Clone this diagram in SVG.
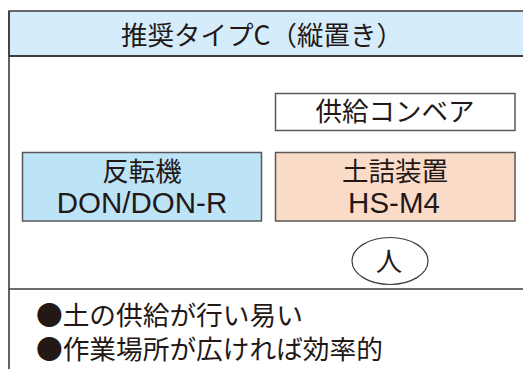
<svg xmlns="http://www.w3.org/2000/svg" width="523" height="369" viewBox="0 0 523 369">
<style>
text{fill:#231815;text-anchor:middle}
.jp{font-family:"Noto Sans CJK JP","Liberation Sans",sans-serif;font-size:26.5px}
.en{font-family:"Liberation Sans","Noto Sans CJK JP",sans-serif;font-size:29.5px}
.note{text-anchor:start;font-size:26.7px}
.box{stroke:#595757;stroke-width:1.5}
.frame{stroke:#3e3a39;fill:none}
</style>
<rect width="523" height="369" fill="#ffffff"/>
<g id="frame">
<rect x="9" y="11" width="520" height="45" fill="#d5ecfa" stroke="#3e3a39" stroke-width="1.5"/>
<line class="frame" x1="9" y1="56" x2="523" y2="56" stroke-width="2.2"/>
<line class="frame" x1="9" y1="11" x2="9" y2="369" stroke-width="1.6"/>
<line class="frame" x1="9" y1="289" x2="523" y2="289" stroke-width="1.6"/>
</g>
<g id="title"><text class="jp" x="262" y="45" style="font-size:26.5px">推奨タイプC（縦置き）</text></g>
<g id="conveyor">
<rect class="box" x="275.5" y="93.5" width="239.5" height="37" fill="#ffffff"/>
<text class="jp" x="395" y="121">供給コンベア</text>
</g>
<g id="hantenki">
<rect class="box" x="22.5" y="152.5" width="239" height="68.5" fill="#bde3f7"/>
<text class="jp" x="142" y="181">反転機</text>
<text class="en" x="142" y="213">DON/DON-R</text>
</g>
<g id="dozume">
<rect class="box" x="275.5" y="152.5" width="239.5" height="68.5" fill="#fadbc8"/>
<text class="jp" x="395" y="181">土詰装置</text>
<text class="en" x="394" y="213">HS-M4</text>
</g>
<g id="person">
<ellipse cx="390" cy="261" rx="38" ry="23.5" fill="#ffffff" stroke="#3e3a39" stroke-width="1.2"/>
<text class="jp" x="389" y="271">人</text>
</g>
<g id="notes">
<text class="jp note" x="36" y="325">●土の供給が行い易い</text>
<text class="jp note" x="36" y="359">●作業場所が広ければ効率的</text>
</g>
</svg>
